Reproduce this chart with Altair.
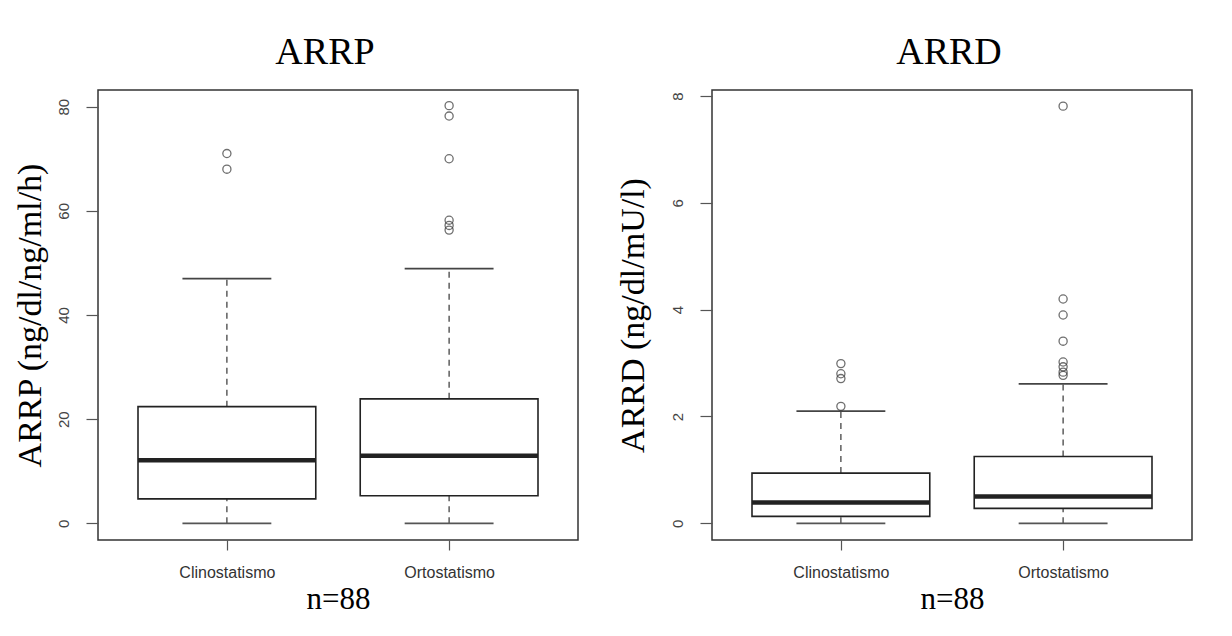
import altair as alt
import pandas as pd

# ---- data ----
groups = ["Clinostatismo", "Ortostatismo"]
positions = [1, 2]

arrp_q1 = [4.7, 5.3]
arrp_median = [12.1, 13.0]
arrp_q3 = [22.4, 23.9]
arrp_low = [0.0, 0.0]
arrp_high = [47.0, 48.9]
arrp_out_clino = [71.0, 68.0]
arrp_out_orto = [80.2, 78.2, 70.0, 58.2, 57.2, 56.3]

arrd_q1 = [0.13, 0.28]
arrd_median = [0.39, 0.50]
arrd_q3 = [0.94, 1.25]
arrd_low = [0.0, 0.0]
arrd_high = [2.10, 2.61]
arrd_out_clino = [2.99, 2.80, 2.71, 2.19]
arrd_out_orto = [7.81, 4.20, 3.90, 3.41, 3.02, 2.93, 2.83, 2.77]

titles = ["ARRP", "ARRD"]
y_titles = ["ARRP (ng/dl/ng/ml/h)", "ARRD (ng/dl/mU/l)"]
y_ticks = [[0, 20, 40, 60, 80], [0, 2, 4, 6, 8]]
x_title = "n=88"

SERIF = "Liberation Serif"
SANS = "Liberation Sans"
INK = "#222222"


def stats_frame(q1, med, q3, lo, hi):
    return pd.DataFrame({"pos": positions, "group": groups, "q1": q1, "med": med,
                         "q3": q3, "lo": lo, "hi": hi})


def outlier_frame(clino, orto):
    return pd.DataFrame({"pos": [positions[0]] * len(clino) + [positions[1]] * len(orto),
                         "value": clino + orto})


def panel(stats, outs, title, ytitle, ticks, ydomain, title_dx, ytitle_pad):
    label_expr = "datum.value == 1 ? '%s' : '%s'" % (groups[0], groups[1])
    xscale = alt.Scale(domain=[0.42, 2.58], nice=False, zero=False)
    yscale = alt.Scale(domain=ydomain, nice=False, zero=False)
    xaxis = alt.Axis(values=positions, labelExpr=label_expr, title=x_title,
                     domain=False, grid=False, tickSize=10, tickColor="#555",
                     tickWidth=1.2, labelFont=SANS, labelFontSize=16, labelColor="#333",
                     labelPadding=14, titleFont=SERIF, titleFontSize=31,
                     titleFontWeight="normal", titleColor="black", titlePadding=4)
    yaxis = alt.Axis(values=ticks, title=ytitle, domain=False, grid=False, tickSize=12,
                     tickColor="#555", tickWidth=1.2, labelAngle=270, labelAlign="center",
                     labelBaseline="bottom", labelFont=SANS, labelFontSize=15,
                     labelColor="#444", labelPadding=15, titleFont=SERIF,
                     titleFontSize=34, titleFontWeight="normal", titleColor="black",
                     titlePadding=ytitle_pad)

    def X(f):
        return alt.X(f, type="quantitative", scale=xscale, axis=xaxis)

    def Y(f):
        return alt.Y(f, type="quantitative", scale=yscale, axis=yaxis)

    base = alt.Chart(stats).transform_calculate(
        xl="datum.pos - 0.4", xr="datum.pos + 0.4",
        cl="datum.pos - 0.2", cr="datum.pos + 0.2")

    whisk_up = base.mark_rule(color="#444", strokeWidth=1.3, strokeDash=[6, 5]).encode(
        x=X("pos"), y=Y("q3"), y2="hi:Q")
    whisk_lo = base.mark_rule(color="#444", strokeWidth=1.3, strokeDash=[6, 5]).encode(
        x=X("pos"), y=Y("lo"), y2="q1:Q")
    box = base.mark_rect(fill="white", stroke=INK, strokeWidth=1.6).encode(
        x=X("xl"), x2="xr:Q", y=Y("q1"), y2="q3:Q")
    median = base.mark_rule(color=INK, strokeWidth=4.5).encode(
        x=X("xl"), x2="xr:Q", y=Y("med"))
    cap_hi = base.mark_rule(color="#444", strokeWidth=1.8).encode(
        x=X("cl"), x2="cr:Q", y=Y("hi"))
    cap_lo = base.mark_rule(color="#555", strokeWidth=1.6).encode(
        x=X("cl"), x2="cr:Q", y=Y("lo"))
    points = alt.Chart(outs).mark_point(shape="circle", filled=False, size=66,
                                        color="#333", strokeWidth=1.3).encode(
        x=X("pos"), y=Y("value"))

    return alt.layer(whisk_up, whisk_lo, box, median, cap_hi, cap_lo, points).properties(
        width=480, height=450,
        title=alt.TitleParams(title, font=SERIF, fontSize=38, fontWeight="normal",
                              color="black", offset=18, dx=title_dx))


left = panel(stats_frame(arrp_q1, arrp_median, arrp_q3, arrp_low, arrp_high),
             outlier_frame(arrp_out_clino, arrp_out_orto),
             titles[0], y_titles[0], y_ticks[0], [-3.2, 83.2], -13, 9)
right = panel(stats_frame(arrd_q1, arrd_median, arrd_q3, arrd_low, arrd_high),
              outlier_frame(arrd_out_clino, arrd_out_orto),
              titles[1], y_titles[1], y_ticks[1], [-0.312, 8.112], -3, 20)

chart = alt.hconcat(left, right, spacing=36).properties(
    background="white",
    padding={"left": 4, "top": 25, "right": 5, "bottom": 5},
).configure_view(stroke="#333", strokeWidth=1.5)

chart.save("out.html", embed_options={"renderer": "svg", "actions": False})
